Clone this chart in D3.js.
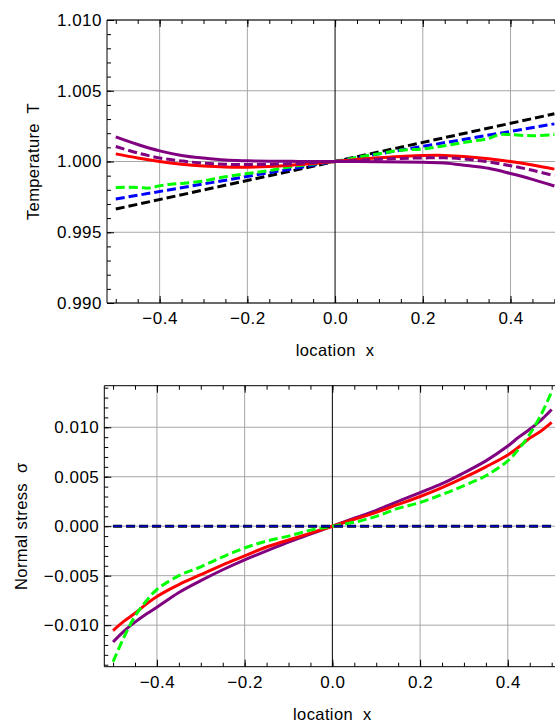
<!DOCTYPE html>
<html lang="en">
<head>
<meta charset="UTF-8">
<title>Temperature and normal stress</title>
<style>
  body { margin: 0; background: #fff; }
  svg { display: block; background: #fff; }
  text { font-family: "Liberation Sans", Arial, sans-serif; fill: #000; }
  .tick text { font-size: 17px; letter-spacing: 0.5px; }
  .ttl { font-size: 16.5px; letter-spacing: 0.4px; white-space: pre; }
  .grid line { stroke: #a6a6a6; stroke-width: 1; }
  .frame { stroke: #000; stroke-width: 1; fill: none; }
</style>
</head>
<body>
<svg width="555" height="725"></svg>
<script src="https://d3js.org/d3.v7.min.js"></script>
<script>
// ---- data ----
const xs = [-0.5,-0.45,-0.4,-0.35,-0.3,-0.25,-0.2,-0.15,-0.1,-0.05,0,0.05,0.1,0.15,0.2,0.25,0.3,0.35,0.4,0.45,0.5];

// temperature panel
const redT        = [1.00054,1.00025,1.0,0.99981,0.99968,0.99961,0.9996,0.99965,0.99974,0.99986,1.0,1.00014,1.00026,1.00035,1.00042,1.00043,1.00034,1.0002,1.0,0.99975,0.99946];
const purpleT     = [1.00174,1.0012,1.00075,1.00043,1.00024,1.0001,1.00005,1.00002,1.00001,1.0,1.0,1.0,0.99999,0.99997,0.99994,0.9999,0.99972,0.99952,0.99915,0.99874,0.99827];
const purpleDashT = [1.00106,1.0006,1.00025,1.00004,0.99988,0.9998,0.99978,0.9998,0.99985,0.99992,1.0,1.00008,1.00016,1.00022,1.00025,1.00026,1.00016,0.99997,0.9997,0.99938,0.99899];
const greenTx     = [-0.5,-0.45,-0.425,-0.4,-0.375,-0.35,-0.3,-0.25,-0.2,-0.15,-0.1,-0.05,0,0.05,0.1,0.15,0.2,0.25,0.3,0.35,0.375,0.4,0.45,0.5];
const greenT      = [0.99817,0.99817,0.99812,0.99828,0.9984,0.99845,0.99862,0.99892,0.99915,0.99936,0.99963,0.99983,1.0,1.0003,1.00055,1.0008,1.00088,1.00112,1.00138,1.00163,1.0019,1.0019,1.00182,1.0019];
const lineTx      = [-0.5, 0.5];
const blueT       = [0.99735, 1.00266];
const blackT      = [0.99664, 1.00337];

// stress panel
const sx      = [-0.5,-0.475,-0.45,-0.425,-0.4,-0.35,-0.3,-0.25,-0.2,-0.15,-0.1,-0.05,0,0.05,0.1,0.15,0.2,0.25,0.3,0.35,0.4,0.425,0.45,0.475,0.5];
const redS    = [-0.01055,-0.0096,-0.0088,-0.0079,-0.0071,-0.0059,-0.0049,-0.0039,-0.003,-0.0021,-0.0014,-0.0007,0,0.0007,0.0014,0.0022,0.003,0.0039,0.0049,0.006,0.0072,0.008,0.0089,0.0096,0.0105];
const purpleS = [-0.0117,-0.0106,-0.0097,-0.0089,-0.0082,-0.0067,-0.0055,-0.0044,-0.0034,-0.0025,-0.0016,-0.0008,0,0.0008,0.0016,0.0025,0.0034,0.0043,0.0054,0.0066,0.0081,0.009,0.0098,0.0107,0.0118];
const greenS  = [-0.0137,-0.0112,-0.0091,-0.0076,-0.0064,-0.005,-0.0041,-0.0031,-0.0022,-0.0015,-0.001,-0.0004,0,0.0004,0.001,0.0018,0.0024,0.0032,0.0041,0.0051,0.0066,0.0078,0.0093,0.0112,0.0136];
const zeroS   = [0, 0];

const xMajor = [-0.4,-0.2,0,0.2,0.4];
const xMinor = d3.range(-10, 11).map(i => i * 0.05);
const tMajor = [0.990,0.995,1.000,1.005,1.010];
const tMinor = d3.range(0, 21).map(i => 0.990 + i * 0.001);
const sMajor = [-0.010,-0.005,0,0.005,0.010];
const sMinor = d3.range(-14, 15).map(i => i * 0.001);

const svg = d3.select("svg");
const zip = (a, b) => a.map((v, i) => [v, b[i]]);

function panel(o) {
  const x = d3.scaleLinear().domain([-0.52, 0.52]).range([o.left, o.left + 1.04 * 438.6]);
  const y = d3.scaleLinear().domain(o.yDomain).range([o.bottom, o.top]);
  const g = svg.append("g");
  const W = 555;

  const clipId = "clip" + o.id;
  svg.append("clipPath").attr("id", clipId)
    .append("rect").attr("x", o.left).attr("y", o.top)
    .attr("width", W - o.left).attr("height", o.bottom - o.top);

  // grid
  const grid = g.append("g").attr("class", "grid");
  grid.selectAll(".v").data(xMajor.filter(d => d != 0)).join("line")
    .attr("x1", d => x(d)).attr("x2", d => x(d))
    .attr("y1", o.top).attr("y2", o.bottom);
  grid.selectAll(".h").data(o.yMajor).join("line")
    .attr("x1", o.left).attr("x2", W)
    .attr("y1", d => y(d)).attr("y2", d => y(d));
  g.append("line").attr("x1", x(0)).attr("x2", x(0))
    .attr("y1", o.top).attr("y2", o.bottom).attr("stroke", "#000");

  // curves
  const line = d3.line().x(d => x(d[0])).y(d => y(d[1])).curve(d3.curveCatmullRom.alpha(0.5));
  const cg = g.append("g").attr("clip-path", `url(#${clipId})`);
  o.series.forEach(s => {
    cg.append("path")
      .attr("d", line(zip(s.x, s.y)))
      .attr("fill", "none")
      .attr("stroke", s.color)
      .attr("stroke-width", s.w || 3)
      .attr("stroke-dasharray", s.dash || null);
  });

  // axes
  const bottomAx = d3.axisBottom(x).tickValues(xMajor).tickFormat(d3.format(".1f"))
    .tickSize(-7).tickPadding(9);
  g.append("g").attr("transform", `translate(0,${o.bottom})`).call(bottomAx)
    .call(a => a.select(".domain").remove());
  g.append("g").attr("transform", `translate(0,${o.bottom})`)
    .call(d3.axisBottom(x).tickValues(xMinor).tickFormat("").tickSize(-4))
    .call(a => a.select(".domain").remove());
  g.append("g").attr("transform", `translate(0,${o.top})`)
    .call(d3.axisTop(x).tickValues(xMajor).tickFormat("").tickSize(-7))
    .call(a => a.select(".domain").remove());
  g.append("g").attr("transform", `translate(0,${o.top})`)
    .call(d3.axisTop(x).tickValues(xMinor).tickFormat("").tickSize(-4))
    .call(a => a.select(".domain").remove());

  g.append("g").attr("transform", `translate(${o.left},0)`)
    .call(d3.axisLeft(y).tickValues(o.yMajor).tickFormat(d3.format(".3f")).tickSize(-7).tickPadding(5))
    .call(a => a.select(".domain").remove());
  g.append("g").attr("transform", `translate(${o.left},0)`)
    .call(d3.axisLeft(y).tickValues(o.yMinor).tickFormat("").tickSize(-4))
    .call(a => a.select(".domain").remove());

  g.selectAll(".tick line").attr("stroke", "#000");
  g.selectAll(".tick text").attr("font-size", null).attr("font-family", null);

  // frame (right side falls outside the picture)
  g.append("path").attr("class", "frame")
    .attr("d", `M${W},${o.top}H${o.left}V${o.bottom}H${W}`);

  // titles
  g.append("text").attr("class", "ttl")
    .attr("x", x(0)).attr("y", o.bottom + 53)
    .attr("text-anchor", "middle")
    .text("location  x");
  g.append("text").attr("class", "ttl")
    .attr("transform", `translate(${o.yTitleX},${(o.top + o.bottom) / 2}) rotate(-90)`)
    .attr("text-anchor", "middle")
    .text(o.yTitle);
}

panel({
  id: "T", left: 107, top: 20, bottom: 303,
  yDomain: [0.99, 1.01], yMajor: tMajor, yMinor: tMinor,
  yTitle: "Temperature  T", yTitleX: 39,
  series: [
    { x: lineTx, y: blackT, color: "#000", dash: "9,4" },
    { x: lineTx, y: blueT, color: "#0000ff", dash: "9,4" },
    { x: greenTx, y: greenT, color: "#00ff00", dash: "9,4" },
    { x: xs, y: redT, color: "#ff0000" },
    { x: xs, y: purpleDashT, color: "#800080", dash: "9,4" },
    { x: xs, y: purpleT, color: "#800080" }
  ]
});

panel({
  id: "S", left: 104.3, top: 385.7, bottom: 666.7,
  yDomain: [-0.0142, 0.0142], yMajor: sMajor, yMinor: sMinor,
  yTitle: "Normal stress  \u03c3", yTitleX: 27,
  series: [
    { x: sx, y: purpleS, color: "#800080" },
    { x: sx, y: redS, color: "#ff0000" },
    { x: sx, y: greenS, color: "#00ff00", dash: "9,4" },
    { x: lineTx, y: zeroS, color: "#000", dash: "9,4", w: 3 },
    { x: lineTx, y: zeroS, color: "#0000ff", dash: "9,4", w: 1.2 }
  ]
});
</script>
</body>
</html>
